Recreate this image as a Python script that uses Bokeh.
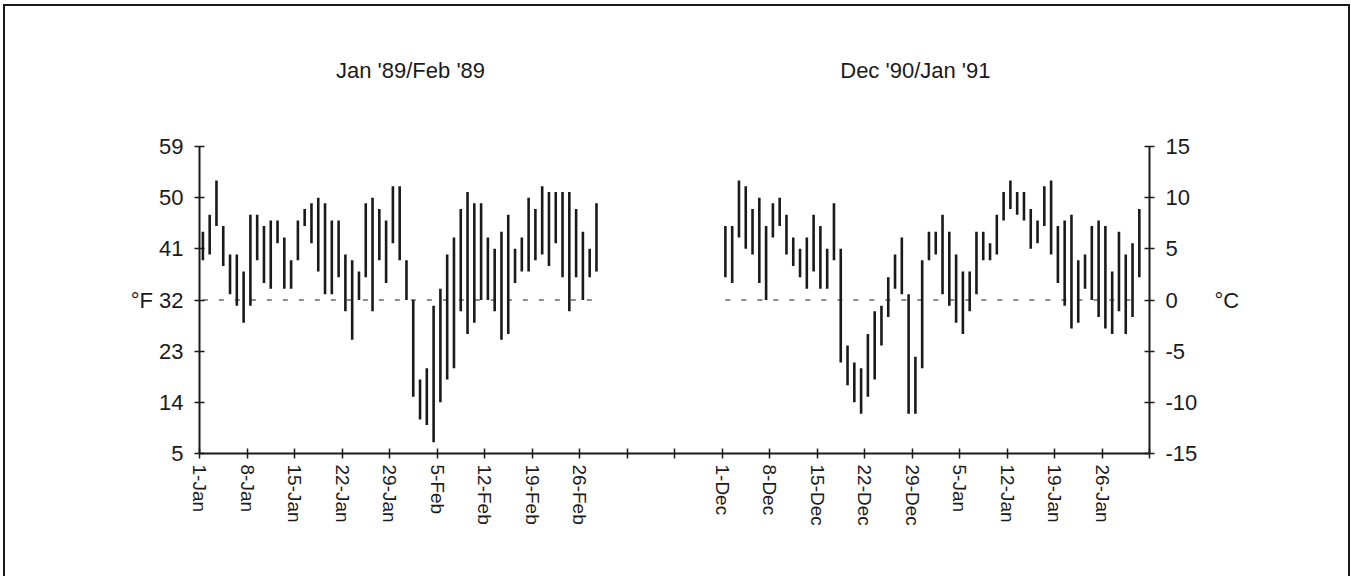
from bokeh.plotting import figure
from bokeh.models import FixedTicker, LinearAxis, Range1d
from bokeh.embed import file_html
from bokeh.resources import INLINE

# ---- data (°F daily high / low) ----
titles = ["Jan '89/Feb '89", "Dec '90/Jan '91"]

left_high = [44, 47, 53, 45, 40, 40, 37, 47, 47, 45, 46, 46, 43, 39, 46, 48, 49, 50, 49, 46,
             46, 40, 39, 37, 49, 50, 48, 46, 52, 52, 39, 32, 18, 20, 31, 34, 40, 43, 48, 51,
             49, 49, 43, 41, 44, 47, 41, 43, 50, 48, 52, 51, 51, 51, 51, 48, 44, 41, 49]
left_low = [39, 40, 45, 38, 33, 31, 28, 31, 39, 35, 34, 42, 34, 34, 39, 45, 42, 37, 33, 33,
            36, 30, 25, 32, 36, 30, 39, 35, 42, 39, 32, 15, 11, 10, 7, 14, 18, 20, 30, 26,
            28, 32, 32, 30, 25, 26, 35, 37, 37, 39, 40, 38, 42, 36, 30, 36, 32, 36, 37]

right_high = [45, 45, 53, 52, 48, 50, 45, 49, 50, 47, 43, 41, 43, 47, 45, 41, 49, 41, 24, 21,
              20, 26, 30, 31, 36, 40, 43, 33, 22, 39, 44, 44, 47, 44, 40, 37, 37, 44, 44, 42,
              47, 51, 53, 51, 51, 48, 46, 52, 53, 45, 46, 47, 39, 40, 45, 46, 45, 37, 44, 40,
              42, 48]
right_low = [36, 35, 43, 41, 40, 35, 32, 43, 45, 40, 38, 36, 34, 37, 34, 34, 39, 21, 17, 14,
             12, 15, 18, 24, 29, 34, 33, 12, 12, 20, 39, 40, 33, 31, 28, 26, 30, 33, 39, 39,
             40, 46, 48, 47, 46, 41, 42, 45, 40, 35, 31, 27, 28, 34, 32, 29, 27, 26, 30, 26,
             29, 36]

left_tick_labels = ["1-Jan", "8-Jan", "15-Jan", "22-Jan", "29-Jan", "5-Feb", "12-Feb", "19-Feb", "26-Feb"]
right_tick_labels = ["1-Dec", "8-Dec", "15-Dec", "22-Dec", "29-Dec", "5-Jan", "12-Jan", "19-Jan", "26-Jan"]

f_ticks = [5, 14, 23, 32, 41, 50, 59]
c_tick_labels = ["-15", "-10", "-5", "0", "5", "10", "15"]
freezing_f = 32

# category layout: left block, 18 empty categories, right block, one empty at end
gap = 18
right_start = len(left_high) + gap
n_cat = right_start + len(right_high) + 1

left_x = [i + 0.5 for i in range(len(left_high))]
right_x = [right_start + i + 0.5 for i in range(len(right_high))]

# title anchor positions (in category units)
title_pos = [31.1, 105.5]

FONT = "Liberation Sans"
INK = "#1a1a1a"

p = figure(width=1343, height=570, x_range=Range1d(0, n_cat), y_range=Range1d(f_ticks[0], f_ticks[-1]),
           output_backend="svg", toolbar_location=None,
           x_axis_location=None, y_axis_location=None,
           min_border_left=194, min_border_right=199, min_border_top=140, min_border_bottom=123,
           margin=(6, 0, 0, 5),
           styles={"outline": "2px solid #1a1a1a"})
p.xgrid.visible = False
p.ygrid.visible = False
p.outline_line_color = None
p.background_fill_color = "white"
p.border_fill_color = "white"

# x axis
xt = list(range(0, n_cat + 1, 7))
xlab = {t: "" for t in xt}
for k, s in enumerate(left_tick_labels):
    xlab[7 * k] = s
for k, s in enumerate(right_tick_labels):
    xlab[right_start + 7 * k] = s
xa = LinearAxis(ticker=FixedTicker(ticks=xt), major_label_overrides=xlab,
                major_label_orientation="vertical")
ya = LinearAxis(ticker=FixedTicker(ticks=f_ticks),
                major_label_overrides={t: (("°F\u00a0" + str(t)) if t == freezing_f else str(t)) for t in f_ticks})
yr = LinearAxis(ticker=FixedTicker(ticks=f_ticks),
                major_label_overrides={t: (c + "\u00a0\u00a0\u00a0\u00a0\u00a0\u00a0°C" if c == "0" else c)
                                       for t, c in zip(f_ticks, c_tick_labels)})
for ax in (xa, ya, yr):
    ax.axis_line_width = 2
    ax.axis_line_color = INK
    ax.major_tick_line_color = INK
    ax.major_tick_line_width = 1.5
    ax.major_tick_in = 5
    ax.major_tick_out = 5
    ax.minor_tick_line_color = None
    ax.major_label_text_font = FONT
    ax.major_label_text_color = INK
xa.major_label_text_font_size = "19px"
xa.major_label_standoff = 6
ya.major_label_text_font_size = "22px"
yr.major_label_text_font_size = "22px"
ya.major_label_standoff = 11
yr.major_label_standoff = 11
p.add_layout(xa, "below")
p.add_layout(ya, "left")
p.add_layout(yr, "right")

# panel titles, drawn as labels of a bare axis above the plot
ta = LinearAxis(ticker=FixedTicker(ticks=title_pos),
                major_label_overrides={t: s for t, s in zip(title_pos, titles)})
ta.axis_line_color = None
ta.major_tick_line_color = None
ta.minor_tick_line_color = None
ta.major_tick_out = 0
ta.major_tick_in = 0
ta.major_label_standoff = 64
ta.major_label_text_font = FONT
ta.major_label_text_font_size = "22px"
ta.major_label_text_color = INK
p.add_layout(ta, "above")

# freezing reference lines
p.segment(x0=[left_x[0], right_x[0]], y0=[freezing_f, freezing_f],
          x1=[left_x[-1], right_x[-1]], y1=[freezing_f, freezing_f],
          line_color=INK, line_width=1.2, line_dash="5 11")

# high-low bars
p.segment(x0=left_x, y0=left_low, x1=left_x, y1=left_high, line_color=INK, line_width=2.6)
p.segment(x0=right_x, y0=right_low, x1=right_x, y1=right_high, line_color=INK, line_width=2.6)

open("out.html", "w").write(file_html(p, INLINE))
